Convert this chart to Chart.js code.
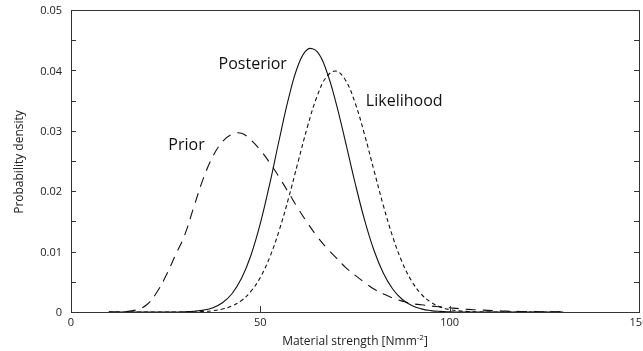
<!DOCTYPE html>
<html lang="en">
<head>
    <meta charset="UTF-8">
    <title>Prior, likelihood and posterior</title>
    <style>
        body {
            margin: 0;
            padding: 0;
            background: #fff;
        }
        #chartBox {
            width: 643px;
            height: 351px;
        }
    </style>
</head>
<body>
    <div id="chartBox">
        <canvas id="densityChart" width="643" height="351"></canvas>
    </div>

    <script src="https://cdn.jsdelivr.net/npm/chart.js"></script>
    <script>
        // material strength grid [Nmm-2]
        const strength = [
            10, 12.5, 15, 17.5, 20, 22.5, 25, 27.5, 30, 32.5,
            35, 37.5, 40, 42.5, 45, 47.5, 50, 52.5, 55, 57.5,
            60, 62.5, 65, 67.5, 70, 72.5, 75, 77.5, 80, 82.5,
            85, 87.5, 90, 92.5, 95, 97.5, 100, 102.5, 105, 107.5,
            110, 112.5, 115, 117.5, 120, 122.5, 125, 127.5, 130
        ];

        const prior = [
            0, 0, 0.0001, 0.0004, 0.0012, 0.0031, 0.0059, 0.0093, 0.0127, 0.0175,
            0.0222, 0.0258, 0.0282, 0.0294, 0.0296, 0.0285, 0.0268, 0.0247, 0.0223, 0.0197,
            0.0171, 0.0147, 0.0125, 0.0106, 0.0090, 0.0074, 0.0061, 0.0049, 0.0038, 0.0030,
            0.0023, 0.0018, 0.0014, 0.0012, 0.0010, 0.00085, 0.0007, 0.00055, 0.00043, 0.00034,
            0.00027, 0.0002, 0.00015, 0.00011, 0.00008, 0.00006, 0.00004, 0.00003, 0.00002
        ];

        const likelihood = [
            0, 0, 0, 0, 0, 0, 0, 0, 0, 0,
            0.0001, 0.00022, 0.00049, 0.00099, 0.00189, 0.0034, 0.00573, 0.00909, 0.01355, 0.01896,
            0.02493, 0.03079, 0.03573, 0.03895, 0.03988, 0.03837, 0.03467, 0.02943, 0.02347, 0.01759,
            0.01238, 0.00818, 0.00508, 0.00297, 0.00163, 0.00084, 0.0004, 0.00018, 0.00008, 0.00003,
            0, 0, 0, 0, 0, 0, 0, 0, 0
        ];

        const posterior = [
            0, 0, 0, 0, 0, 0, 0, 0, 0.00005, 0.00013,
            0.00031, 0.00072, 0.00153, 0.00302, 0.00553, 0.00936, 0.01467, 0.02127, 0.02856, 0.0355,
            0.04086, 0.0435, 0.0431, 0.03987, 0.03459, 0.02813, 0.02143, 0.0153, 0.01023, 0.00641,
            0.00376, 0.00207, 0.00107, 0.00052, 0.00023, 0.0001, 0.00004, 0, 0, 0,
            0, 0, 0, 0, 0, 0, 0, 0, 0
        ];

        const xTicks = [0, 50, 100, 150];
        const yTicks = [0, 0.01, 0.02, 0.03, 0.04, 0.05];
        const yMinorStep = 0.005;

        // curve names written next to each curve: [text, x value, y value]
        const curveNames = [
            ['Posterior', 48, 0.0410],
            ['Likelihood', 88, 0.0349],
            ['Prior', 30.5, 0.0276]
        ];

        const fontName = '"Open Sans", "Noto Sans", sans-serif';

        function points(values) {
            return strength.map((x, i) => ({ x: x, y: values[i] }));
        }

        const framePlugin = {
            id: 'frame',
            afterDraw(chart) {
                const ctx = chart.ctx;
                const area = chart.chartArea;
                const xs = chart.scales.x;
                const ys = chart.scales.y;

                ctx.save();
                ctx.setLineDash([]);
                ctx.strokeStyle = '#333';
                ctx.lineWidth = 1;
                ctx.strokeRect(Math.round(area.left) + 0.5, Math.round(area.top) + 0.5,
                    Math.round(area.right - area.left), Math.round(area.bottom - area.top));

                // inward ticks on left and right
                ctx.beginPath();
                for (let v = yMinorStep; v < 0.05; v += yMinorStep) {
                    const py = Math.round(ys.getPixelForValue(v)) + 0.5;
                    ctx.moveTo(area.left, py);
                    ctx.lineTo(area.left + 5, py);
                    ctx.moveTo(area.right, py);
                    ctx.lineTo(area.right - 5, py);
                }
                xTicks.forEach(v => {
                    const px = Math.round(xs.getPixelForValue(v)) + 0.5;
                    ctx.moveTo(px, area.bottom);
                    ctx.lineTo(px, area.bottom - 6);
                });
                ctx.stroke();

                ctx.fillStyle = '#222';
                ctx.font = '11px ' + fontName;
                ctx.textAlign = 'right';
                ctx.textBaseline = 'middle';
                yTicks.forEach(v => {
                    ctx.fillText(String(v), area.left - 9, ys.getPixelForValue(v) + 1);
                });
                ctx.textAlign = 'center';
                ctx.textBaseline = 'top';
                xTicks.forEach(v => {
                    ctx.fillText(String(v), xs.getPixelForValue(v), area.bottom + 5);
                });

                // axis titles
                ctx.font = '12px ' + fontName;
                ctx.save();
                ctx.translate(20, 162);
                ctx.rotate(-Math.PI / 2);
                ctx.textAlign = 'center';
                ctx.textBaseline = 'middle';
                ctx.fillText('Probability density', 0, 0);
                ctx.restore();

                const main = 'Material strength [Nmm';
                const sup = '-2';
                const tail = ']';
                ctx.font = '12px ' + fontName;
                const w1 = ctx.measureText(main).width;
                const w3 = ctx.measureText(tail).width;
                ctx.font = '8px ' + fontName;
                const w2 = ctx.measureText(sup).width;
                let sx = 355 - (w1 + w2 + w3) / 2;
                ctx.textAlign = 'left';
                ctx.textBaseline = 'alphabetic';
                ctx.font = '12px ' + fontName;
                ctx.fillText(main, sx, 345);
                ctx.font = '8px ' + fontName;
                ctx.fillText(sup, sx + w1, 340);
                ctx.font = '12px ' + fontName;
                ctx.fillText(tail, sx + w1 + w2, 345);

                // curve names
                ctx.font = '16px ' + fontName;
                ctx.textAlign = 'center';
                ctx.textBaseline = 'middle';
                ctx.fillStyle = '#111';
                curveNames.forEach(c => {
                    ctx.fillText(c[0], xs.getPixelForValue(c[1]), ys.getPixelForValue(c[2]));
                });
                ctx.restore();
            }
        };

        const lineLook = {
            borderColor: '#111',
            borderWidth: 1.1,
            pointRadius: 0,
            tension: 0.4,
            fill: false
        };

        new Chart(document.getElementById('densityChart'), {
            type: 'line',
            data: {
                datasets: [
                    Object.assign({ label: 'Prior', data: points(prior), borderDash: [10, 7] }, lineLook),
                    Object.assign({ label: 'Likelihood', data: points(likelihood), borderDash: [4, 3] }, lineLook),
                    Object.assign({ label: 'Posterior', data: points(posterior) }, lineLook)
                ]
            },
            options: {
                responsive: false,
                animation: false,
                layout: {
                    padding: { left: 71, top: 10, right: 4, bottom: 39 }
                },
                plugins: {
                    legend: { display: false },
                    tooltip: { enabled: false }
                },
                scales: {
                    x: { type: 'linear', min: 0, max: 150, display: false },
                    y: { type: 'linear', min: 0, max: 0.05, display: false }
                }
            },
            plugins: [framePlugin]
        });
    </script>
</body>
</html>
